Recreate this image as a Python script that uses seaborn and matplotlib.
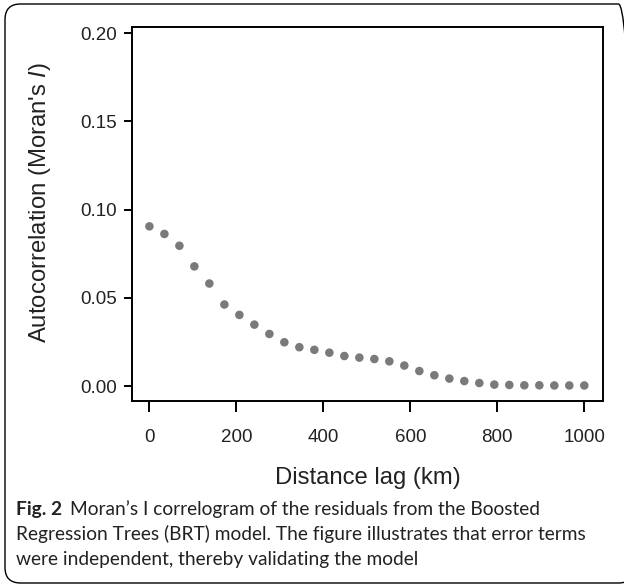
import matplotlib
matplotlib.use("Agg")
import matplotlib.pyplot as plt
import seaborn as sns
import pandas as pd
from matplotlib.patches import FancyBboxPatch

# ---- data ----
distance_lag_km = [0, 34.5, 69, 103.4, 137.9, 172.4, 206.9, 241.4, 275.9, 310.3,
                   344.8, 379.3, 413.8, 448.3, 482.8, 517.2, 551.7, 586.2, 620.7, 655.2,
                   689.7, 724.1, 758.6, 793.1, 827.6, 862.1, 896.6, 931.0, 965.5, 1000]
morans_i = [0.0905, 0.0862, 0.0795, 0.0678, 0.0581, 0.0462, 0.0403, 0.0348, 0.0295, 0.0248,
            0.0220, 0.0205, 0.0189, 0.0170, 0.0161, 0.0153, 0.0140, 0.0116, 0.0085, 0.0061,
            0.0042, 0.0028, 0.0017, 0.0008, 0.0006, 0.0004, 0.0004, 0.0003, 0.0003, 0.0003]
x_ticks = [0, 200, 400, 600, 800, 1000]
y_ticks = [0.00, 0.05, 0.10, 0.15, 0.20]
y_tick_labels = ["0.00", "0.05", "0.10", "0.15", "0.20"]
x_label = "Distance lag (km)"
y_label = "Autocorrelation (Moran's $\\it{I}$)"
caption_bold = "Fig. 2"
caption_lines = ["Moran\u2019s I correlogram of the residuals from the Boosted",
                 "Regression Trees (BRT) model. The figure illustrates that error terms",
                 "were independent, thereby validating the model"]

df = pd.DataFrame({"lag": distance_lag_km, "moran": morans_i})

sns.set_theme(style="white")
plt.rcParams["font.family"] = ["Liberation Sans", "DejaVu Sans"]
plt.rcParams["mathtext.fontset"] = "custom"
plt.rcParams["mathtext.it"] = "Liberation Sans:italic"
plt.rcParams["mathtext.rm"] = "Liberation Sans"

W, H = 624, 587
fig = plt.figure(figsize=(W / 100, H / 100), dpi=100)
fig.patch.set_facecolor("white")

# axes placed in pixel terms
left, right, top, bottom = 132, 603, 27, 401
ax = fig.add_axes([left / W, 1 - bottom / H, (right - left) / W, (bottom - top) / H])

sns.scatterplot(data=df, x="lag", y="moran", ax=ax, color="#7a7a7a", s=38,
                edgecolor="none", legend=False)

ax.set_xlim(-40, 1043)
ax.set_ylim(-0.0085, 0.2035)
ax.set_xticks(x_ticks)
ax.set_xticklabels([str(v) for v in x_ticks])
ax.set_yticks(y_ticks)
ax.set_yticklabels(y_tick_labels)

for sp in ax.spines.values():
    sp.set_visible(True)
    sp.set_color("black")
    sp.set_linewidth(1.4)

ax.tick_params(axis="both", which="major", direction="out", color="black", width=1.4,
               labelsize=13.5, labelcolor="#222222", bottom=True, left=True,
               top=False, right=False)
ax.tick_params(axis="x", length=8, pad=12)
ax.tick_params(axis="y", length=6, pad=5)
ax.grid(False)

ax.set_xlabel(x_label, fontsize=17.2, color="#222222")
ax.set_ylabel(y_label, fontsize=17.2, color="#222222")
ax.xaxis.set_label_coords(0.5, (bottom - 478) / (bottom - top))
ax.xaxis.label.set_verticalalignment("center")
ax.yaxis.set_label_coords((40 - left) / (right - left), 0.53)
ax.yaxis.label.set_verticalalignment("center")

# outer rounded frame
frame = FancyBboxPatch((5 / W, 4 / H), (W + 10 - 5) / W, (583 - 4) / H,
                       boxstyle="round,pad=0,rounding_size=0.025",
                       transform=fig.transFigure, facecolor="none",
                       edgecolor="black", linewidth=1.0, clip_on=False,
                       mutation_aspect=W / H)
fig.patches.append(frame)

# caption: size chosen so the longest line spans the same width as in the reference
cap_font = ["Lato", "DejaVu Sans"]
renderer = fig.canvas.get_renderer()
probe = fig.text(0, 0, caption_lines[1], fontsize=14, family=cap_font)
pw = probe.get_window_extent(renderer=renderer).width
probe.remove()
cap_size = 14 * (589 - 16) / pw

line_y = [509, 534, 559]
t0 = fig.text(16 / W, 1 - line_y[0] / H, caption_bold, fontsize=cap_size,
              fontweight="bold", family=cap_font, va="center", ha="left", color="#222222")
bb = t0.get_window_extent(renderer=renderer)
fig.text((bb.x1 + 8) / W, 1 - line_y[0] / H, caption_lines[0], fontsize=cap_size,
         family=cap_font, va="center", ha="left", color="#222222")
for ln, yy in zip(caption_lines[1:], line_y[1:]):
    fig.text(16 / W, 1 - yy / H, ln, fontsize=cap_size, family=cap_font,
             va="center", ha="left", color="#222222")

fig.savefig("out.png", dpi=100)
